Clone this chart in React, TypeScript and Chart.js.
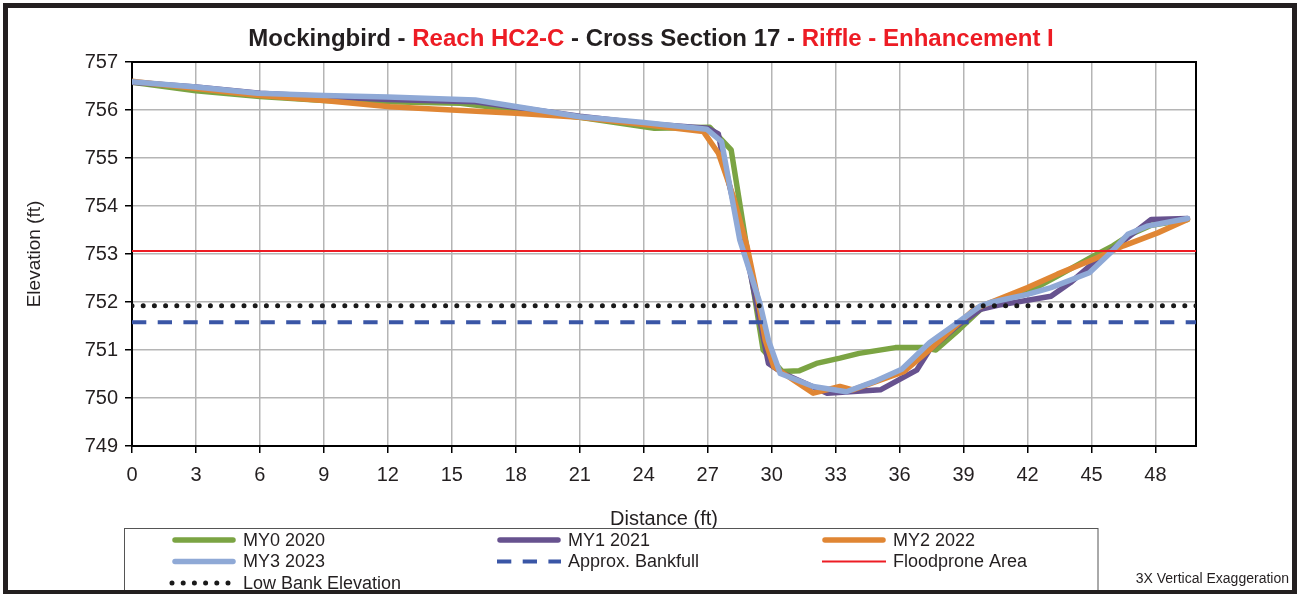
import { useEffect, useRef } from "react";
import { Chart, registerables } from "chart.js";

Chart.register(...registerables);

// ---------- Title ----------
const titleTexts = ["Mockingbird - ", "Reach HC2-C", " - Cross Section 17 - ", "Riffle - Enhancement I"];
const titleColors = ["#231F20", "#ED1C24", "#231F20", "#ED1C24"];

// ---------- Axes ----------
const xAxisTitle = "Distance (ft)";
const yAxisTitle = "Elevation (ft)";
const xMin = 0;
const xMax = 49.9;
const xStep = 3;
const yMin = 749;
const yMax = 757;
const yStep = 1;
const noteText = "3X Vertical Exaggeration";

// ---------- Series ----------
const my0Dist = [0, 3, 6, 9, 12, 15.4, 18, 21, 24.5, 27.1, 28.1, 29.6, 30.5, 31.3, 32.1, 33.2, 34.1, 35.8, 37.1, 37.7, 38.8, 39.8, 40.4, 42, 43.4, 45.1, 46.0, 46.8, 47.8, 49.5];
const my0Elev = [756.58, 756.4, 756.28, 756.2, 756.17, 756.14, 756.0, 755.85, 755.62, 755.64, 755.17, 751.0, 750.55, 750.57, 750.72, 750.83, 750.93, 751.05, 751.05, 751.0, 751.43, 751.85, 751.99, 752.2, 752.54, 752.96, 753.17, 753.4, 753.6, 753.72];

const my1Dist = [0, 3, 6, 9, 12, 16.1, 21, 24, 27, 27.5, 27.7, 29.0, 29.85, 30.55, 32.6, 35.1, 36.8, 37.4, 38.7, 39.8, 40.6, 43.1, 44.0, 45.1, 46.0, 46.7, 47.8, 49.5];
const my1Elev = [756.58, 756.48, 756.35, 756.28, 756.22, 756.17, 755.87, 755.72, 755.62, 755.5, 755.03, 752.6, 750.72, 750.51, 750.1, 750.17, 750.58, 751.0, 751.5, 751.85, 751.93, 752.12, 752.4, 752.82, 753.1, 753.34, 753.72, 753.74];

const my2Dist = [0, 3, 6, 9, 12.1, 15, 18, 21, 24, 26.8, 27.5, 28.2, 28.85, 29.3, 29.7, 30.1, 31.0, 31.95, 33.2, 33.8, 36.2, 37.4, 39.5, 40.25, 42, 43.4, 45.1, 46.5, 48.1, 49.5];
const my2Elev = [756.6, 756.45, 756.3, 756.2, 756.07, 756.0, 755.93, 755.85, 755.7, 755.55, 755.1, 754.2, 753.15, 752.18, 751.2, 750.65, 750.38, 750.1, 750.24, 750.17, 750.55, 751.0, 751.85, 751.99, 752.3, 752.58, 752.89, 753.17, 753.44, 753.72];

const my3Dist = [0, 3, 5.9, 9, 12, 16.1, 21, 24, 26.95, 27.65, 28.5, 29.0, 29.45, 29.85, 30.4, 31.95, 33.5, 34.8, 36.1, 37.4, 38.5, 39.8, 40.25, 42, 43.1, 44.9, 45.9, 46.7, 47.6, 49.5];
const my3Elev = [756.59, 756.48, 756.35, 756.3, 756.27, 756.21, 755.86, 755.74, 755.6, 755.34, 753.3, 752.6, 751.97, 751.2, 750.51, 750.24, 750.13, 750.34, 750.6, 751.15, 751.5, 751.92, 751.99, 752.16, 752.3, 752.61, 753.03, 753.41, 753.58, 753.74];

// ---------- Reference lines ----------
const refDist = [0, 49.9];
const bankfullElev = [751.58, 751.58];
const floodproneElev = [753.06, 753.06];
const lowBankElev = [751.92, 751.92];

const seriesLabels = ["MY0 2020", "MY1 2021", "MY2 2022", "MY3 2023", "Approx. Bankfull", "Floodprone Area", "Low Bank Elevation"];

const FONT = "'Liberation Sans', Arial, Helvetica, sans-serif";
const TEXT = "#231F20";

const pts = (xs: number[], ys: number[]) => xs.map((x, i) => ({ x, y: ys[i] }));

const titlePlugin = {
  id: "multiTitle",
  afterDraw(chart: any) {
    const ctx = chart.ctx as CanvasRenderingContext2D;
    ctx.save();
    ctx.font = `bold 24px ${FONT}`;
    ctx.textBaseline = "middle";
    ctx.textAlign = "left";
    const widths = titleTexts.map((t) => ctx.measureText(t).width);
    const total = widths.reduce((a, b) => a + b, 0);
    let x = 651 - total / 2;
    titleTexts.forEach((t, i) => {
      ctx.fillStyle = titleColors[i];
      ctx.fillText(t, x, 39.5);
      x += widths[i];
    });
    ctx.restore();
  },
};

const framePlugin = {
  id: "frameBox",
  beforeDatasetsDraw(chart: any) {
    const { ctx, chartArea } = chart;
    ctx.save();
    ctx.strokeStyle = "#000";
    ctx.lineWidth = 2;
    ctx.strokeRect(chartArea.left, chartArea.top, chartArea.right - chartArea.left, chartArea.bottom - chartArea.top);
    ctx.restore();
  },
  afterDraw(chart: any) {
    const ctx = chart.ctx as CanvasRenderingContext2D;
    ctx.save();
    // legend box
    ctx.strokeStyle = "#555";
    ctx.lineWidth = 1;
    ctx.strokeRect(124.5, 528.5, 973.5, 70);
    // legend entries
    chart.data.datasets.forEach((ds: any, i: number) => {
      const col = i % 3;
      const row = Math.floor(i / 3);
      const x0 = 172 + col * 325;
      const y = 540 + row * 21.5;
      ctx.save();
      ctx.beginPath();
      ctx.strokeStyle = ds.borderColor;
      ctx.lineWidth = ds.borderWidth;
      ctx.lineCap = ds.borderCapStyle || "butt";
      ctx.setLineDash(ds.borderDash || []);
      const inset = ds.borderDash ? 0 : (ds.borderCapStyle === "round" ? 3 : 0);
      ctx.moveTo(x0 + inset, y);
      ctx.lineTo(x0 + 64 - inset, y);
      ctx.stroke();
      ctx.restore();
      ctx.fillStyle = TEXT;
      ctx.font = `18px ${FONT}`;
      ctx.textBaseline = "middle";
      ctx.textAlign = "left";
      ctx.fillText(ds.label, x0 + 71, y + 1);
    });
    // note
    ctx.font = `14px ${FONT}`;
    ctx.textAlign = "right";
    ctx.textBaseline = "middle";
    ctx.fillStyle = TEXT;
    ctx.fillText(noteText, 1289, 579);
    // outer frame
    ctx.fillStyle = "#231F20";
    ctx.fillRect(3, 3, 1294, 5);
    ctx.fillRect(3, 3, 5, 591);
    ctx.fillRect(1292, 3, 5, 591);
    ctx.fillRect(3, 590, 1294, 4);
    ctx.restore();
  },
};

export default function App() {
  const ref = useRef<HTMLCanvasElement>(null);
  useEffect(() => {
    document.body.style.margin = "0";
    const seriesStyle = (color: string, order: number) => ({
      borderColor: color,
      backgroundColor: color,
      borderWidth: 5.5,
      borderCapStyle: "round",
      borderJoinStyle: "round",
      pointRadius: 0,
      fill: false,
      order,
    });
    const chart = new Chart(ref.current as HTMLCanvasElement, {
      type: "line",
      data: {
        datasets: [
          { label: seriesLabels[0], data: pts(my0Dist, my0Elev), ...seriesStyle("#7BA443", 4) },
          { label: seriesLabels[1], data: pts(my1Dist, my1Elev), ...seriesStyle("#67528F", 3) },
          { label: seriesLabels[2], data: pts(my2Dist, my2Elev), ...seriesStyle("#E08634", 2) },
          { label: seriesLabels[3], data: pts(my3Dist, my3Elev), ...seriesStyle("#8FA9D6", 1) },
          {
            label: seriesLabels[4], data: pts(refDist, bankfullElev), borderColor: "#3A56A6", borderWidth: 4,
            borderDash: [14.3, 11.4], pointRadius: 0, fill: false, order: 0,
          },
          {
            label: seriesLabels[5], data: pts(refDist, floodproneElev), borderColor: "#ED1C24", borderWidth: 2,
            pointRadius: 0, fill: false, order: 0,
          },
          {
            label: seriesLabels[6], data: pts(refDist, lowBankElev), borderColor: "#1A1A1A", borderWidth: 5,
            borderDash: [0, 11.2], borderCapStyle: "round", pointRadius: 0, fill: false, order: 0,
          },
        ] as any,
      },
      options: {
        responsive: false,
        animation: false,
        layout: { padding: { left: 0, top: 62, right: 101, bottom: 0 } },
        plugins: { legend: { display: false }, tooltip: { enabled: false }, title: { display: false } },
        elements: { line: { tension: 0 }, point: { radius: 0 } },
        scales: {
          x: {
            type: "linear",
            min: xMin,
            max: xMax,
            afterFit: (s: any) => { s.height = 148; },
            ticks: { stepSize: xStep, includeBounds: false, autoSkip: false, maxRotation: 0, font: { size: 20, family: FONT }, color: TEXT, padding: 10 },
            grid: { color: "#B5B5B5", lineWidth: 1.5, tickLength: 7, tickColor: "#000", tickWidth: 1.5 },
            border: { display: true, color: "#000", width: 2 },
            title: { display: true, text: xAxisTitle, font: { size: 20, family: FONT }, color: TEXT, padding: { top: 0, bottom: 63 } },
          },
          y: {
            type: "linear",
            min: yMin,
            max: yMax,
            afterFit: (s: any) => { s.width = 132; },
            ticks: { stepSize: yStep, font: { size: 20, family: FONT }, color: TEXT, padding: 7 },
            grid: { color: "#B5B5B5", lineWidth: 1.5, tickLength: 7, tickColor: "#000", tickWidth: 1.5 },
            border: { display: true, color: "#000", width: 2 },
            title: { display: true, text: yAxisTitle, font: { size: 19, family: FONT }, color: TEXT, padding: { top: 23, bottom: 0 } },
          },
        },
      } as any,
      plugins: [framePlugin, titlePlugin],
    });
    return () => chart.destroy();
  }, []);
  return <canvas ref={ref} width={1297} height={594} style={{ display: "block" }} />;
}
